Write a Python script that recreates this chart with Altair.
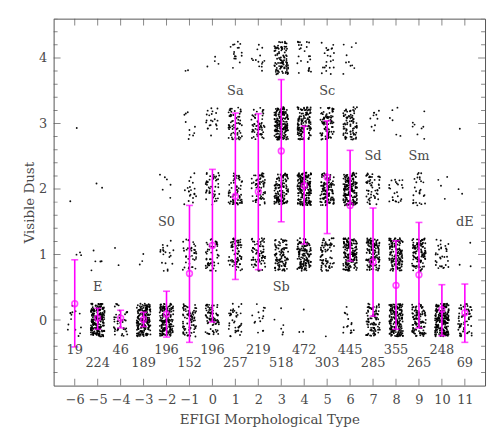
import altair as alt
import numpy as np
import pandas as pd

# ---- data ----
types = list(range(-6, 12))
totals = [19, 224, 46, 189, 196, 152, 196, 257, 219, 518, 472, 303, 445, 285, 355, 265, 248, 69]
# number of galaxies at each visible-dust level, per type
dust0 = [14, 217, 44, 186, 170, 80, 75, 40, 15, 6, 3, 1, 15, 90, 185, 115, 212, 63]
dust1 = [3, 5, 2, 3, 20, 40, 50, 70, 70, 95, 130, 70, 160, 130, 140, 115, 32, 3]
dust2 = [1, 2, 0, 0, 6, 20, 45, 65, 65, 125, 185, 120, 180, 55, 24, 27, 4, 2]
dust3 = [1, 0, 0, 0, 0, 10, 22, 65, 55, 190, 130, 90, 80, 10, 6, 8, 0, 1]
dust4 = [0, 0, 0, 0, 0, 2, 4, 17, 14, 102, 24, 22, 10, 0, 0, 0, 0, 0]
means = [0.25, 0.03, 0.03, 0.01, 0.09, 0.71, 1.14, 1.89, 1.96, 2.58, 2.05, 2.18, 1.75, 0.89, 0.53, 0.69, 0.16, 0.11]
err_hi = [0.92, 0.18, 0.15, 0.12, 0.44, 1.75, 2.30, 3.16, 3.15, 3.67, 2.96, 3.04, 2.59, 1.71, 1.21, 1.49, 0.54, 0.55]
err_lo = [-0.41, -0.14, -0.12, -0.10, -0.26, -0.34, -0.03, 0.62, 0.77, 1.50, 1.16, 1.32, 0.90, 0.06, -0.14, -0.12, -0.24, -0.34]
class_names = ["E", "S0", "Sa", "Sb", "Sc", "Sd", "Sm", "dE"]
class_x = [-5, -2, 1, 3, 5, 7, 9, 11]
class_y = [0.5, 1.5, 3.5, 0.5, 3.5, 2.5, 2.5, 1.5]
y_labels = [0, 1, 2, 3, 4]

FONT = "DejaVu Serif"
GREY = "#4a4a4a"
MAG = "#ff00ff"
XDOM = [-6.92, 11.88]
YDOM = [-1.0, 4.6]

# ---- scatter table: each galaxy placed in its (type, dust) cell; the spread
# inside a cell is a deterministic hash of the index (layout only) ----
def _h(k):
    return (np.sin(k) * 43758.5453) % 1.0

levels = [dust0, dust1, dust2, dust3, dust4]
rows = []
for ti, t in enumerate(types):
    for d, arr in enumerate(levels):
        n = arr[ti]
        for i in range(n):
            k = ti * 7919.0 + d * 104729.0 + i * 1.618
            u = _h(k * 12.9898 + 1.0)
            v = _h(k * 78.233 + 3.0)
            rows.append({"type": t, "dust": d, "jx": (u - 0.5) * 0.6, "jy": (v - 0.5) * 0.5})
pts = pd.DataFrame(rows)

summ = pd.DataFrame({"type": types, "mean": means, "lo": err_lo, "hi": err_hi,
                     "n": totals,
                     "ny": [-0.45 if i % 2 == 0 else -0.65 for i in range(len(types))]})
cls = pd.DataFrame({"name": class_names, "x": class_x, "y": class_y})

xs = alt.Scale(domain=XDOM, nice=False, zero=False)
ys = alt.Scale(domain=YDOM, nice=False, zero=False)

xaxis = alt.Axis(values=types, format="d", labelOverlap=False, labelBound=False, ticks=False,
                 domain=False, grid=False,
                 labelFont=FONT, labelFontSize=13, labelColor=GREY, labelPadding=8,
                 title="EFIGI Morphological Type",
                 titleFont=FONT, titleFontSize=13.5, titleColor=GREY, titleFontWeight="normal",
                 titleY=34, titleBaseline="middle")
yaxis = alt.Axis(values=y_labels, format="d", labelOverlap=False, ticks=False, domain=False,
                 grid=False, labelFont=FONT,
                 labelFontSize=13, labelColor=GREY, labelPadding=7, title="Visible Dust",
                 titleFont=FONT, titleFontSize=13.5, titleColor=GREY, titleFontWeight="normal",
                 titleX=-24, titleBaseline="middle")


def X(field):
    return alt.X(field, scale=xs, axis=xaxis)


def Y(field):
    return alt.Y(field, scale=ys, axis=yaxis)


scatter = alt.Chart(pts).transform_calculate(
    px="datum.type + datum.jx", py="datum.dust + datum.jy"
).mark_circle(size=3.6, color="black", opacity=0.95).encode(
    x=X("px:Q"), y=Y("py:Q"))

bars = alt.Chart(summ).mark_rule(color=MAG, strokeWidth=1.6).encode(
    x=X("type:Q"), y=Y("lo:Q"), y2="hi:Q")
cap_hi = alt.Chart(summ).mark_tick(color=MAG, thickness=1.6, size=7, orient="horizontal").encode(
    x=X("type:Q"), y=Y("hi:Q"))
cap_lo = alt.Chart(summ).mark_tick(color=MAG, thickness=1.6, size=7, orient="horizontal").encode(
    x=X("type:Q"), y=Y("lo:Q"))
mean_pt = alt.Chart(summ).mark_point(shape="circle", filled=False, color=MAG, size=34, strokeWidth=1.6).encode(
    x=X("type:Q"), y=Y("mean:Q"))
ntext = alt.Chart(summ).mark_text(font=FONT, fontSize=13, color=GREY).encode(
    x=X("type:Q"), y=Y("ny:Q"), text="n:Q")
ctext = alt.Chart(cls).mark_text(font=FONT, fontSize=13, color=GREY).encode(
    x=X("x:Q"), y=Y("y:Q"), text="name:N")

# inward frame ticks
xt = pd.DataFrame({"v": types})
yvals = [round(-0.8 + 0.2 * k, 1) for k in range(28)]
ytk = pd.DataFrame({"v": yvals, "major": [abs(v - round(v)) < 1e-6 for v in yvals]})
ytk_major = ytk[ytk.major]
ytk_minor = ytk[~ytk.major]


def xticks(pos):
    return alt.Chart(xt).mark_tick(orient="vertical", size=14, thickness=1, color="#555", clip=True).encode(
        x=X("v:Q"), y=alt.value(pos))


def yticks(df, pos, size):
    return alt.Chart(df).mark_tick(orient="horizontal", size=size, thickness=1, color="#555", clip=True).encode(
        y=Y("v:Q"), x=alt.value(pos))


ticks = [xticks(0), xticks("height"),
         yticks(ytk_major, 0, 14), yticks(ytk_minor, 0, 8),
         yticks(ytk_major, "width", 14), yticks(ytk_minor, "width", 8)]

chart = alt.layer(scatter, bars, cap_hi, cap_lo, mean_pt, ntext, ctext, *ticks).properties(
    width=435, height=370,
    autosize=alt.AutoSizeParams(type="none"),
    padding={"left": 46, "top": 9, "right": 4, "bottom": 40},
).configure_view(stroke="#555", strokeWidth=1).configure_axis(labelOverlap=False)

chart.save("out.html", embed_options={"renderer": "svg", "actions": False})
